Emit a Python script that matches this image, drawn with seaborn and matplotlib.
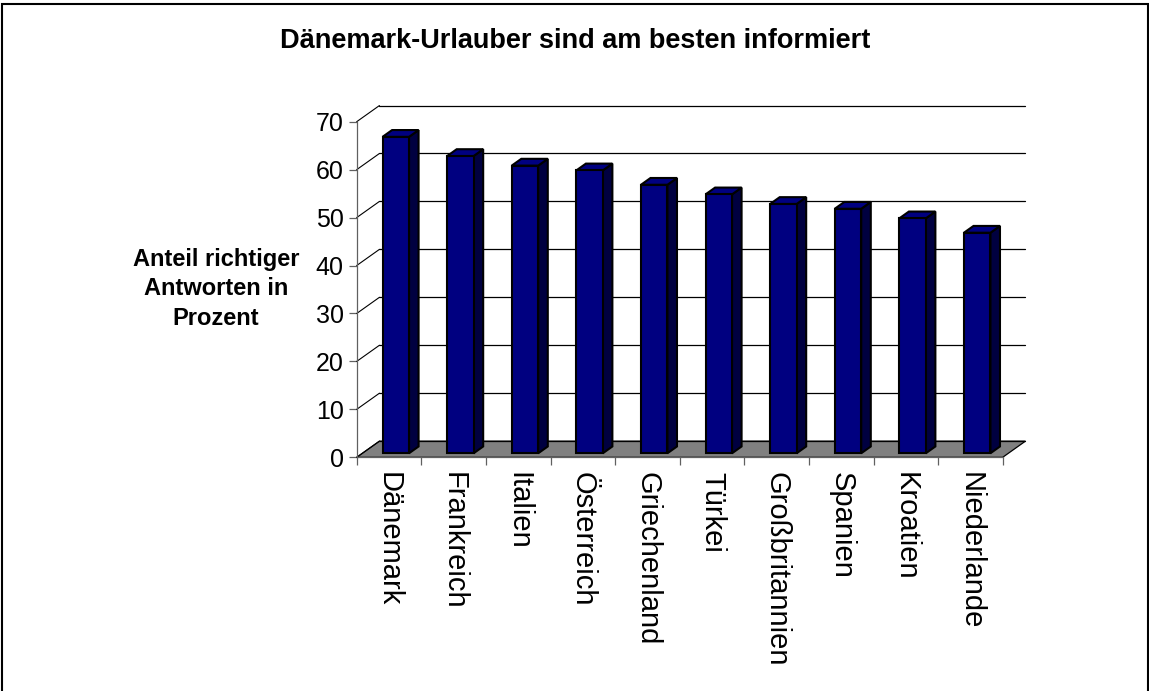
import numpy as np
import pandas as pd
import matplotlib
matplotlib.use("Agg")
import matplotlib.pyplot as plt
import seaborn as sns
from matplotlib.patches import Polygon, Rectangle

# ---- data ----
countries = ["Dänemark", "Frankreich", "Italien", "Österreich", "Griechenland",
             "Türkei", "Großbritannien", "Spanien", "Kroatien", "Niederlande"]
values = [66, 62, 60, 59, 56, 54, 52, 51, 49, 46]
yticks = [0, 10, 20, 30, 40, 50, 60, 70]
title = "Dänemark-Urlauber sind am besten informiert"
ylabel = "Anteil richtiger\nAntworten in\nProzent"

sns.set_style("white")
plt.rcParams["font.family"] = ["Liberation Sans", "DejaVu Sans"]
plt.rcParams["text.color"] = "black"
plt.rcParams["xtick.labelcolor"] = "black"
plt.rcParams["ytick.labelcolor"] = "black"

W, H = 1149, 691
fig = plt.figure(figsize=(W / 100, H / 100), dpi=100)
fig.patch.set_facecolor("white")
ax = fig.add_axes([356.7 / W, (H - 457.3) / H, (1002.7 - 356.7) / W, (457.3 - 121.7) / H])
ax.set_facecolor("none")

df = pd.DataFrame({"Land": countries, "Anteil": values})
sns.barplot(data=df, x="Land", y="Anteil", color="#000080", saturation=1,
            width=0.41, edgecolor="black", linewidth=1.5, ax=ax, zorder=5)
bars = list(ax.patches)
ax.set_xlim(-0.5, 9.5)
ax.set_ylim(0, 70)

# 3D depth parameters (in data units)
DX, DY = 0.352, 3.37     # full depth of the chart floor
FX, FY = 0.105, 0.84     # position of bar fronts within depth
BX, BY = 0.148, 1.42     # depth of each bar

# floor
floor = Polygon([(-0.5, 0), (9.5, 0), (9.5 + DX, DY), (-0.5 + DX, DY)], closed=True,
                fc="#808080", ec="black", lw=0.9, clip_on=False, zorder=1)
ax.add_patch(floor)

# back wall gridlines and left wall diagonals
for v in yticks:
    ax.plot([-0.5 + DX, 9.5 + DX], [v + DY, v + DY], color="black", lw=0.9,
            clip_on=False, zorder=2)
    ax.plot([-0.5, -0.5 + DX], [v, v + DY], color="black", lw=0.8,
            clip_on=False, zorder=2)

# bars: shift fronts, add side and top faces
for p in bars:
    x0 = p.get_x() + FX
    w = p.get_width()
    h = p.get_height()
    p.set_x(x0)
    p.set_y(FY)
    p.set_clip_on(False)
    p.set_zorder(6)
    side = Polygon([(x0 + w, FY), (x0 + w + BX, FY + BY), (x0 + w + BX, FY + h + BY),
                    (x0 + w, FY + h)], closed=True, fc="#000040", ec="black", lw=1.5,
                   clip_on=False, zorder=5)
    top = Polygon([(x0, FY + h), (x0 + w, FY + h), (x0 + w + BX, FY + h + BY),
                   (x0 + BX, FY + h + BY)], closed=True, fc="#000080", ec="black", lw=1.5,
                  clip_on=False, zorder=5)
    ax.add_patch(side)
    ax.add_patch(top)

# axes & ticks
ax.set_yticks(yticks)
ax.set_yticklabels([str(v) for v in yticks], fontsize=18)
ax.tick_params(axis="y", direction="out", length=5.5, width=0.9, color="#606060",
               pad=4.0, left=True, labelcolor="black")
ax.set_xticks(np.arange(-0.5, 10, 1))
ax.set_xticklabels([])
ax.set_xticks(range(len(countries)), minor=True)
ax.set_xticklabels(countries, minor=True, rotation=270, fontsize=21, va="top", ha="center")
ax.tick_params(axis="x", which="major", direction="out", length=5.8, width=0.9,
               color="#606060", bottom=True)
ax.tick_params(axis="x", which="minor", length=0, pad=10.5, labelcolor="black")
ax.set_xlabel("")
ax.set_ylabel("")
for s in ["top", "right"]:
    ax.spines[s].set_visible(False)
for s in ["left", "bottom"]:
    ax.spines[s].set_color("#606060")
    ax.spines[s].set_linewidth(0.9)

fig.text(575 / W, 1 - 41.5 / H, title, ha="center", va="center", fontsize=19.5,
         fontweight="bold", color="black")
fig.text(216 / W, 1 - 289 / H, ylabel, ha="center", va="center", multialignment="center",
         fontsize=17, fontweight="bold", linespacing=1.35, color="black")

fig.add_artist(Rectangle((2 / W, -0.01), (1147.5 - 2) / W, 1 - 3.8 / H + 0.01,
                         transform=fig.transFigure, fill=False, ec="black", lw=1.5))

fig.savefig("out.png", dpi=100)
